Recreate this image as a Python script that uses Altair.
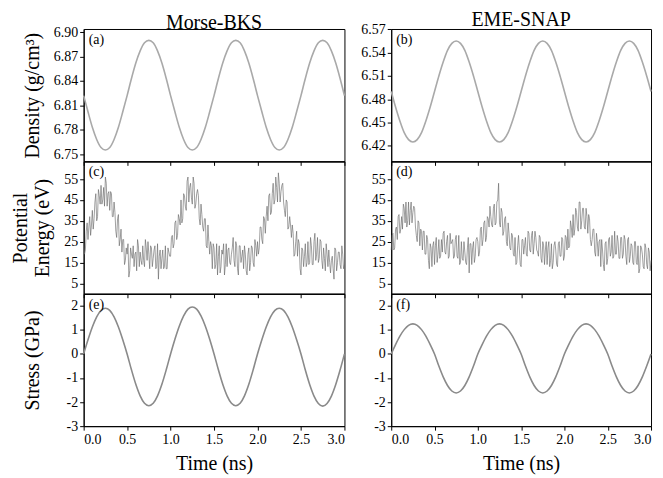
import altair as alt
import pandas as pd

# ---------------- data ----------------
time_smooth = [round(i * 0.05, 2) for i in range(61)]
time_noisy = [round(i * 0.01, 2) for i in range(301)]

density_morse = [
    6.822, 6.802, 6.783, 6.768, 6.758, 6.755, 6.758, 6.768, 6.783, 6.802,
    6.822, 6.843, 6.862, 6.877, 6.887, 6.890, 6.887, 6.877, 6.862, 6.843,
    6.822, 6.802, 6.783, 6.768, 6.758, 6.755, 6.758, 6.768, 6.783, 6.802,
    6.822, 6.843, 6.862, 6.877, 6.887, 6.890, 6.887, 6.877, 6.862, 6.843,
    6.822, 6.802, 6.783, 6.768, 6.758, 6.755, 6.758, 6.768, 6.783, 6.802,
    6.822, 6.843, 6.862, 6.877, 6.887, 6.890, 6.887, 6.877, 6.862, 6.843,
    6.822,
]
density_eme = [
    6.490, 6.470, 6.452, 6.437, 6.428, 6.425, 6.428, 6.437, 6.452, 6.470,
    6.490, 6.510, 6.528, 6.543, 6.552, 6.555, 6.552, 6.543, 6.528, 6.510,
    6.490, 6.470, 6.452, 6.437, 6.428, 6.425, 6.428, 6.437, 6.452, 6.470,
    6.490, 6.510, 6.528, 6.543, 6.552, 6.555, 6.552, 6.543, 6.528, 6.510,
    6.490, 6.470, 6.452, 6.437, 6.428, 6.425, 6.428, 6.437, 6.452, 6.470,
    6.490, 6.510, 6.528, 6.543, 6.552, 6.555, 6.552, 6.543, 6.528, 6.510,
    6.490,
]
stress_morse = [
    0.00, 0.59, 1.12, 1.54, 1.81, 1.90, 1.81, 1.54, 1.12, 0.59,
    0.00, -0.66, -1.26, -1.74, -2.05, -2.15, -2.05, -1.74, -1.26, -0.66,
    0.00, 0.61, 1.15, 1.58, 1.86, 1.95, 1.86, 1.58, 1.15, 0.61,
    0.00, -0.66, -1.26, -1.74, -2.05, -2.15, -2.05, -1.74, -1.26, -0.66,
    0.00, 0.59, 1.12, 1.54, 1.81, 1.90, 1.81, 1.54, 1.12, 0.59,
    0.00, -0.67, -1.27, -1.75, -2.06, -2.17, -2.06, -1.75, -1.27, -0.67,
    0.00,
]
stress_eme = [
    0.00, 0.39, 0.74, 1.01, 1.19, 1.25, 1.19, 1.01, 0.74, 0.39,
    0.00, -0.50, -0.95, -1.31, -1.54, -1.62, -1.54, -1.31, -0.95, -0.50,
    0.00, 0.39, 0.74, 1.01, 1.19, 1.25, 1.19, 1.01, 0.74, 0.39,
    0.00, -0.50, -0.95, -1.31, -1.54, -1.62, -1.54, -1.31, -0.95, -0.50,
    0.00, 0.39, 0.74, 1.01, 1.19, 1.25, 1.19, 1.01, 0.74, 0.39,
    0.00, -0.50, -0.95, -1.31, -1.54, -1.62, -1.54, -1.31, -0.95, -0.50,
    0.00,
]
energy_morse = [
    25, 19, 21, 30, 34, 26, 32, 37, 28, 33, 40, 31, 36, 44, 48, 35, 37, 50, 47, 43,
    52, 43, 45, 51, 42, 56, 53, 42, 48, 49, 40, 49, 48, 37, 37, 44, 39, 30, 27, 36,
    38, 23, 26, 31, 20, 26, 26, 14, 16, 22, 19, 24, 8, 11, 22, 19, 17, 23, 13, 19,
    20, 11, 26, 23, 13, 20, 16, 14, 23, 16, 13, 26, 22, 16, 25, 19, 12, 23, 22, 13,
    17, 21, 23, 12, 13, 24, 7, 18, 21, 12, 17, 21, 12, 13, 23, 12, 12, 22, 20, 18,
    18, 27, 28, 22, 24, 34, 35, 26, 28, 38, 36, 33, 45, 34, 36, 48, 47, 42, 40, 54,
    56, 44, 51, 53, 46, 43, 56, 53, 41, 43, 48, 50, 47, 36, 33, 43, 38, 32, 30, 36,
    36, 23, 22, 33, 25, 19, 25, 23, 12, 24, 22, 12, 14, 24, 9, 18, 23, 10, 13, 21,
    19, 24, 9, 14, 24, 13, 21, 22, 15, 14, 19, 22, 27, 16, 13, 25, 23, 12, 9, 23,
    23, 15, 18, 21, 12, 23, 19, 11, 9, 19, 22, 11, 15, 23, 22, 15, 13, 26, 23, 18,
    25, 19, 22, 32, 32, 26, 24, 37, 36, 29, 37, 42, 35, 47, 48, 38, 39, 48, 53, 43,
    45, 56, 51, 44, 58, 53, 44, 49, 52, 53, 44, 40, 37, 45, 44, 31, 32, 37, 33, 27,
    33, 29, 18, 19, 25, 30, 18, 26, 24, 12, 9, 22, 21, 13, 18, 24, 13, 15, 25, 14,
    15, 27, 23, 14, 14, 25, 29, 16, 19, 27, 15, 17, 26, 25, 16, 12, 22, 17, 11, 24,
    19, 13, 21, 15, 10, 16, 18, 12, 7, 22, 21, 11, 15, 20, 20, 14, 12, 23, 19, 12,
    14,
]
energy_eme = [
    21, 28, 29, 21, 22, 31, 32, 26, 37, 38, 29, 31, 37, 31, 43, 41, 34, 44, 32, 35,
    44, 33, 40, 44, 34, 39, 42, 41, 32, 28, 25, 35, 34, 23, 31, 30, 21, 30, 30, 19,
    19, 28, 26, 16, 12, 24, 22, 13, 23, 25, 14, 23, 27, 15, 19, 26, 17, 18, 26, 20,
    29, 30, 20, 19, 25, 28, 17, 18, 29, 24, 25, 26, 17, 18, 26, 28, 18, 17, 28, 14,
    15, 25, 17, 16, 25, 20, 15, 14, 22, 27, 10, 24, 24, 14, 22, 25, 15, 18, 26, 27,
    25, 18, 20, 31, 32, 23, 26, 34, 35, 25, 27, 37, 36, 32, 42, 37, 33, 32, 41, 43,
    33, 34, 44, 45, 53, 34, 32, 41, 39, 28, 30, 36, 37, 25, 23, 34, 29, 22, 21, 29,
    28, 19, 18, 27, 14, 15, 23, 28, 21, 14, 13, 26, 26, 19, 23, 27, 19, 18, 30, 29,
    21, 20, 28, 30, 19, 24, 30, 27, 21, 20, 18, 28, 27, 17, 15, 25, 23, 14, 21, 25,
    14, 22, 25, 13, 16, 24, 12, 15, 23, 25, 21, 14, 13, 24, 25, 18, 18, 27, 26, 16,
    18, 28, 27, 21, 31, 22, 23, 35, 32, 27, 38, 28, 31, 41, 39, 32, 30, 44, 44, 31,
    35, 41, 41, 32, 31, 41, 37, 29, 38, 36, 26, 23, 26, 31, 31, 20, 18, 29, 25, 18,
    25, 26, 13, 26, 21, 14, 11, 24, 25, 14, 17, 26, 27, 18, 20, 28, 17, 18, 30, 19,
    19, 28, 25, 17, 17, 27, 27, 17, 19, 28, 26, 18, 14, 26, 27, 15, 18, 24, 23, 15,
    14, 25, 25, 15, 14, 23, 10, 12, 23, 22, 19, 13, 12, 24, 22, 14, 12, 22, 20, 11,
    16,
]

columns = ["Morse-BKS", "EME-SNAP"]
panel_labels = ["(a)", "(b)", "(c)", "(d)", "(e)", "(f)"]
x_ticks = [0.0, 0.5, 1.0, 1.5, 2.0, 2.5, 3.0]
density_ticks_morse = [6.75, 6.78, 6.81, 6.84, 6.87, 6.90]
density_ticks_eme = [6.42, 6.45, 6.48, 6.51, 6.54, 6.57]
energy_ticks = [5, 15, 25, 35, 45, 55]
stress_ticks = [-3, -2, -1, 0, 1, 2]

FONT = "Liberation Serif"
W_LEFT, W_RIGHT, H = 262, 261, 133
MINUS_FIX = "replace(datum.label, '\u2212', '-')"


def panel(times, values, label, ydomain, yticks, yfmt, color, width,
          ytitle=None, title=None, xlabels=False, noisy=False, title_x=-41):
    df = pd.DataFrame({"t": times, "v": values})
    x_axis = alt.Axis(values=x_ticks, format=".1f", labels=xlabels,
                      title="Time (ns)" if xlabels else None, tickSize=4,
                      titlePadding=8, labelPadding=2)
    y_kwargs = dict(values=yticks, format=yfmt, tickSize=4, labelExpr=MINUS_FIX,
                    labelPadding=2)
    if ytitle is not None:
        y_kwargs.update(title=ytitle, titleX=title_x, titleBaseline="bottom",
                        titleLineHeight=22)
    else:
        y_kwargs.update(title=None)
    if noisy:
        mark = alt.Chart(df).mark_line(color=color, strokeWidth=0.7, opacity=0.9)
    else:
        mark = alt.Chart(df).mark_line(color=color, strokeWidth=1.6, interpolate="monotone")
    line = mark.encode(
        x=alt.X("t:Q", scale=alt.Scale(domain=[0, 3], nice=False, zero=False), axis=x_axis),
        y=alt.Y("v:Q", scale=alt.Scale(domain=ydomain, nice=False, zero=False),
                axis=alt.Axis(**y_kwargs)),
    )
    lab = alt.Chart(pd.DataFrame({"label": [label]})).mark_text(
        align="left", baseline="top", font=FONT, fontSize=14, color="black"
    ).encode(text="label:N", x=alt.value(5), y=alt.value(4))
    ch = alt.layer(line, lab).properties(width=width, height=H)
    if title is not None:
        ch = ch.properties(title=alt.TitleParams(title, font=FONT, fontSize=20,
                                                 fontWeight="normal", offset=-8,
                                                 anchor="middle", color="black"))
    return ch


a = panel(time_smooth, density_morse, panel_labels[0], [6.741, 6.904], density_ticks_morse, ".2f",
          "#a9a9a9", W_LEFT, ytitle="Density (g/cm\u00b3)", title=columns[0])
b = panel(time_smooth, density_eme, panel_labels[1], [6.400, 6.5705], density_ticks_eme, ".2f",
          "#a9a9a9", W_RIGHT, title=columns[1])
c = panel(time_noisy, energy_morse, panel_labels[2], [0, 63.5], energy_ticks, "d",
          "#666666", W_LEFT, ytitle=["Potential", "Energy (eV)"], noisy=True, title_x=-53)
d = panel(time_noisy, energy_eme, panel_labels[3], [0, 63.5], energy_ticks, "d",
          "#666666", W_RIGHT, noisy=True)
e = panel(time_smooth, stress_morse, panel_labels[4], [-3, 2.5], stress_ticks, "d",
          "#8a8a8a", W_LEFT, ytitle="Stress (GPa)", xlabels=True)
f = panel(time_smooth, stress_eme, panel_labels[5], [-3, 2.5], stress_ticks, "d",
          "#8a8a8a", W_RIGHT, xlabels=True)

chart = alt.concat(a, b, c, d, e, f, columns=2,
                   spacing={"row": 0, "column": 47}, bounds="flush").properties(
    padding={"left": 2, "top": 0, "right": 0, "bottom": 0}
).configure_axis(
    labelFont=FONT, labelFontSize=14, labelColor="black",
    titleFont=FONT, titleFontSize=20, titleFontWeight="normal", titleColor="black",
    domainColor="black", tickColor="black", grid=False,
).configure_view(stroke="black", strokeWidth=1)

chart.save("out.html", embed_options={"renderer": "svg", "actions": False})
